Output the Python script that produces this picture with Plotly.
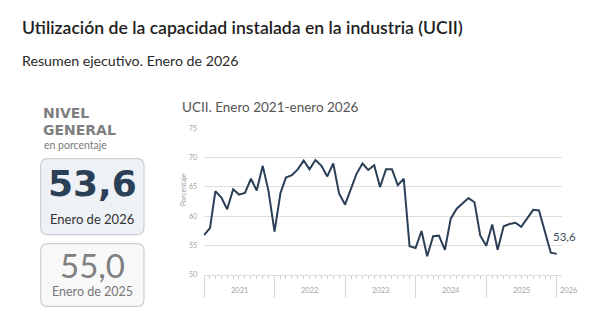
import plotly.graph_objects as go
import pandas as pd

# ---- data ----
months = pd.date_range("2021-01-01", periods=61, freq="MS")
ucii = [
    56.8, 58.0, 64.3, 63.2, 61.2, 64.6, 63.7, 64.0, 66.4, 64.4, 68.6, 64.3,   # 2021
    57.4, 64.0, 66.6, 67.0, 68.0, 69.5, 68.0, 69.6, 68.6, 66.8, 69.0, 63.9,   # 2022
    62.0, 64.9, 67.2, 69.0, 67.9, 68.7, 65.0, 68.0, 68.0, 65.3, 66.4, 54.9,   # 2023
    54.6, 57.5, 53.2, 56.6, 56.7, 54.3, 59.6, 61.3, 62.2, 63.1, 62.4, 56.7,   # 2024
    55.0, 58.6, 54.3, 58.3, 58.7, 58.9, 58.2, 59.6, 61.1, 61.0, 57.3, 53.8,   # 2025
    53.6,                                                                     # 2026
]
year_labels = ["2021", "2022", "2023", "2024", "2025"]
year_starts = ["2021-01-01", "2022-01-01", "2023-01-01", "2024-01-01", "2025-01-01", "2026-01-01"]
year_mids = ["2021-07-02", "2022-07-02", "2023-07-02", "2024-07-02", "2025-07-02"]
y_ticks = [50, 55, 60, 65, 70, 75]

title = "Utilización de la capacidad instalada en la industria (UCII)"
subtitle = "Resumen ejecutivo. Enero de 2026"
chart_title = "UCII. Enero 2021-enero 2026"
current_value = "53,6"
current_label = "Enero de 2026"
previous_value = "55,0"
previous_label = "Enero de 2025"

# ---- layout geometry (pixels) ----
W, H = 610, 329
L, R, T, B = 204, 562, 128.3, 275.3

def px(x):
    return (x - L) / (R - L)

def py(y):
    return (B - y) / (B - T)

def rounded_rect(x0, y0, x1, y1, r):
    pts = [
        f"M {px(x0 + r)} {py(y0)}",
        f"L {px(x1 - r)} {py(y0)}",
        f"Q {px(x1)} {py(y0)} {px(x1)} {py(y0 + r)}",
        f"L {px(x1)} {py(y1 - r)}",
        f"Q {px(x1)} {py(y1)} {px(x1 - r)} {py(y1)}",
        f"L {px(x0 + r)} {py(y1)}",
        f"Q {px(x0)} {py(y1)} {px(x0)} {py(y1 - r)}",
        f"L {px(x0)} {py(y0 + r)}",
        f"Q {px(x0)} {py(y0)} {px(x0 + r)} {py(y0)}",
        "Z",
    ]
    return " ".join(pts)

FONT = "Lato"
NAVY = "#2b3f57"

fig = go.Figure()
fig.add_trace(go.Scatter(
    x=months, y=ucii, mode="lines",
    line=dict(color=NAVY, width=2),
    hoverinfo="x+y", showlegend=False,
))

shapes = [
    dict(type="path", xref="paper", yref="paper",
         path=rounded_rect(40.7, 159, 144, 235, 7),
         fillcolor="#eef1f5", line=dict(color="#c9ced6", width=1.2), layer="below"),
    dict(type="path", xref="paper", yref="paper",
         path=rounded_rect(40.7, 244, 144, 306.7, 7),
         fillcolor="#f8f8f8", line=dict(color="#cfcfcf", width=1.2), layer="below"),
]

ann = []
def text(x, y, s, size, color, anchor="left", weight="normal", family=FONT, **kw):
    ann.append(dict(x=px(x), y=py(y), xref="paper", yref="paper", text=s,
                    showarrow=False, xanchor=anchor, yanchor="middle",
                    font=dict(size=size, color=color, family=family, weight=weight), **kw))

text(20, 28, title, 17.6, "#1e1e1e", weight=600)
text(20, 61, subtitle, 14.2, "#2a2a2a")
text(180, 107, chart_title, 13.5, "#555555")

text(41, 113, "NIVEL", 14, "#7f7f7f", weight="bold", family="DejaVu Sans")
text(41, 130.5, "GENERAL", 14, "#7f7f7f", weight="bold", family="DejaVu Sans")
text(42, 145, "en porcentaje", 10.5, "#7a7a7a")

text(92.3, 184, current_value, 36, NAVY, anchor="center", weight="bold", family="DejaVu Sans")
text(92.3, 219.5, current_label, 13, "#333333", anchor="center")
text(92.3, 265, previous_value, 33, "#808080", anchor="center")
text(92.3, 291.5, previous_label, 12.5, "#777777", anchor="center")

# year labels
for xm, lab in zip(year_mids, year_labels):
    ann.append(dict(x=xm, y=py(291), xref="x", yref="paper", text=lab, showarrow=False,
                    xanchor="center", yanchor="middle",
                    font=dict(size=7.5, color="#a3a3a3", family=FONT)))
ann.append(dict(x=year_starts[-1], y=py(291), xref="x", yref="paper", text="2026",
                showarrow=False, xanchor="left", yanchor="middle", xshift=1,
                font=dict(size=7.5, color="#a3a3a3", family=FONT)))

# axis title
ann.append(dict(x=px(182.5), y=py(190), xref="paper", yref="paper", text="Porcentaje",
                showarrow=False, textangle=-90, xanchor="center", yanchor="middle",
                font=dict(size=7, color="#9a9a9a", family=FONT)))

# end label
ann.append(dict(x=months[-1], y=ucii[-1], xref="x", yref="y", text=current_value,
                showarrow=False, xanchor="left", yanchor="middle", xshift=-6, yshift=17,
                font=dict(size=11.5, color="#3e4c5c", family=FONT)))

fig.update_layout(
    width=W, height=H,
    margin=dict(l=L, r=W - R, t=T, b=H - B, pad=0),
    paper_bgcolor="white", plot_bgcolor="white",
    shapes=shapes, annotations=ann,
    xaxis=dict(
        type="date", range=["2021-01-01", "2026-01-28"],
        showgrid=False, zeroline=False,
        showline=True, linecolor="#dddddd", linewidth=1,
        tickmode="array", tickvals=year_starts, ticks="outside",
        ticklen=22, tickcolor="#d6d6d6", tickwidth=1,
        showticklabels=False,
        minor=dict(tickmode="linear", tick0="2021-01-01", dtick="M1",
                   ticks="outside", ticklen=3, tickcolor="#cccccc", tickwidth=1, showgrid=False),
    ),
    yaxis=dict(
        range=[50, 75.05], tickvals=y_ticks, showgrid=True,
        gridcolor="#dedede", gridwidth=1.3, zeroline=False,
        tickfont=dict(size=7, color="#a3a3a3", family=FONT),
        ticklabelstandoff=6,
    ),
)

fig.write_html("out.html")
